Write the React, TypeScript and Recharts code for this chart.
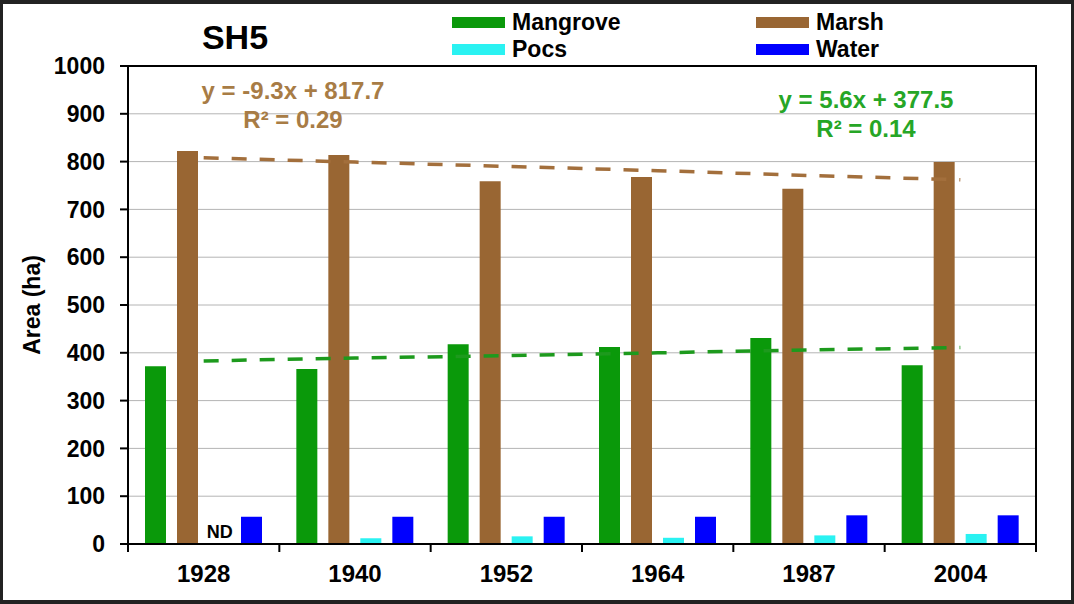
import React from 'react';
import {
  ComposedChart,
  Bar,
  Line,
  XAxis,
  YAxis,
  CartesianGrid,
  Legend,
  Label,
  ReferenceArea,
  ReferenceDot,
} from 'recharts';

const FONT = 'Arial, "Liberation Sans", Helvetica, sans-serif';

const years = ['1928', '1940', '1952', '1964', '1987', '2004'];
const mangrove = [372, 366, 418, 412, 431, 374];
const marsh = [822, 814, 759, 768, 743, 799];
const pocs = [null, 12, 16, 13, 18, 21];
const water = [57, 57, 57, 57, 60, 60];
const pocsNotes = ['ND', '', '', '', '', ''];
// dashed linear trend lines
const mangroveTrend = [383, 389, 394, 400, 406, 411];
const marshTrend = [808, 799, 790, 781, 771, 762];
const yTicks = [0, 100, 200, 300, 400, 500, 600, 700, 800, 900, 1000];

const data = years.map((year, i) => ({
  year,
  Mangrove: mangrove[i],
  Marsh: marsh[i],
  Pocs: pocs[i],
  Water: water[i],
  mangroveTrend: mangroveTrend[i],
  marshTrend: marshTrend[i],
}));

const tickStyle = { fill: '#000', fontSize: 23, fontWeight: 700, fontFamily: FONT };

// year label in the middle of the band, tick marks on the band edges
const YearTick = (props: any) => {
  const { x, y, payload, index, visibleTicksCount } = props;
  const half = payload.offset || 0;
  const isLast = index === visibleTicksCount - 1;
  return (
    <g>
      <line x1={x - half} x2={x - half} y1={y} y2={y + 8} stroke="#000" strokeWidth={2} />
      {isLast && (
        <line x1={x + half} x2={x + half} y1={y} y2={y + 8} stroke="#000" strokeWidth={2} />
      )}
      <text
        x={x}
        y={y + 38}
        textAnchor="middle"
        fontSize={24}
        fontWeight={700}
        fontFamily={FONT}
        fill="#000"
      >
        {payload.value}
      </text>
    </g>
  );
};

const renderLegend = (props: any) => {
  const items = (props.payload || []).filter((p: any) => p.type !== 'none');
  return (
    <div style={{ display: 'grid', gridTemplateColumns: '304px 220px' }}>
      {items.map((it: any) => (
        <div key={it.value} style={{ display: 'flex', alignItems: 'center', height: 27 }}>
          <span style={{ width: 53, height: 11, background: it.color, marginRight: 7 }} />
          <span style={{ fontSize: 23, fontWeight: 700, fontFamily: FONT, color: '#000' }}>
            {it.value}
          </span>
        </div>
      ))}
    </div>
  );
};

const YTitle = (props: any) => {
  const vb = props.viewBox;
  const x = vb.x + 29;
  const y = vb.y + vb.height / 2;
  return (
    <text
      x={x}
      y={y}
      transform={`rotate(-90, ${x}, ${y})`}
      textAnchor="middle"
      dominantBaseline="central"
      fontSize={23}
      fontWeight={700}
      fontFamily={FONT}
      fill="#000"
    >
      Area (ha)
    </text>
  );
};

const NoteLabel = (props: any) => {
  const vb = props.viewBox;
  return (
    <text
      x={vb.x + 16}
      y={vb.y - 6}
      textAnchor="middle"
      fontSize={18}
      fontWeight={700}
      fontFamily={FONT}
      fill="#000"
    >
      {props.value}
    </text>
  );
};

export default function App() {
  return (
    <div
      style={{
        position: 'fixed',
        left: 0,
        top: 0,
        width: 1074,
        height: 604,
        background: '#222',
        fontFamily: FONT,
      }}
    >
      <div
        style={{
          position: 'absolute',
          left: 3,
          top: 4,
          width: 1068,
          height: 596,
          background: '#fff',
        }}
      >
        <ComposedChart
          width={1068}
          height={596}
          data={data}
          margin={{ top: 62, right: 35, bottom: 0, left: 0 }}
          barSize={21}
          barGap={11}
        >
          <CartesianGrid vertical={false} stroke="#b4b4b4" />
          <XAxis
            dataKey="year"
            height={56}
            axisLine={{ stroke: '#000', strokeWidth: 2 }}
            tickLine={false}
            tickSize={0}
            tickMargin={0}
            tick={<YearTick />}
            interval={0}
          />
          <YAxis
            width={125}
            domain={[0, 1000]}
            ticks={yTicks}
            interval={0}
            tickSize={8}
            tickMargin={15}
            tick={tickStyle}
            axisLine={{ stroke: '#000', strokeWidth: 2 }}
            tickLine={{ stroke: '#000', strokeWidth: 2 }}
          >
            <Label content={YTitle} />
          </YAxis>
          <Legend
            content={renderLegend}
            layout="horizontal"
            verticalAlign="middle"
            align="center"
            wrapperStyle={{ top: 5, left: 449, width: 560 }}
          />
          <Bar dataKey="Mangrove" fill="#0a990a" isAnimationActive={false} />
          <Bar dataKey="Marsh" fill="#996633" isAnimationActive={false} />
          <Bar dataKey="Pocs" fill="#2af2f2" isAnimationActive={false} />
          <Bar dataKey="Water" fill="#0000ff" isAnimationActive={false} />
          <Line
            dataKey="marshTrend"
            stroke="#a36f3c"
            strokeWidth={3.5}
            strokeDasharray="15 13"
            dot={false}
            activeDot={false}
            legendType="none"
            isAnimationActive={false}
          />
          <Line
            dataKey="mangroveTrend"
            stroke="#1d9a1d"
            strokeWidth={3.5}
            strokeDasharray="15 13"
            dot={false}
            activeDot={false}
            legendType="none"
            isAnimationActive={false}
          />
          {/* plot frame */}
          <ReferenceArea y1={0} y2={1000} fill="none" stroke="#000" strokeWidth={2} />
          {pocsNotes.map((note, i) =>
            note ? (
              <ReferenceDot
                key={years[i]}
                x={years[i]}
                y={0}
                r={0}
                fill="none"
                stroke="none"
                label={{ value: note, content: NoteLabel }}
              />
            ) : null
          )}
        </ComposedChart>
      </div>

      <div
        style={{
          position: 'absolute',
          left: 235,
          top: 20,
          transform: 'translateX(-50%)',
          fontSize: 34,
          fontWeight: 700,
          lineHeight: 1,
          color: '#000',
          whiteSpace: 'nowrap',
        }}
      >
        SH5
      </div>
      <div
        style={{
          position: 'absolute',
          left: 293,
          top: 76,
          transform: 'translateX(-50%)',
          fontSize: 24,
          fontWeight: 700,
          lineHeight: '29px',
          color: '#a87c45',
          textAlign: 'center',
          whiteSpace: 'nowrap',
        }}
      >
        <div>y = -9.3x + 817.7</div>
        <div>R² = 0.29</div>
      </div>
      <div
        style={{
          position: 'absolute',
          left: 866,
          top: 85,
          transform: 'translateX(-50%)',
          fontSize: 24,
          fontWeight: 700,
          lineHeight: '29px',
          color: '#26a626',
          textAlign: 'center',
          whiteSpace: 'nowrap',
        }}
      >
        <div>y = 5.6x + 377.5</div>
        <div>R² = 0.14</div>
      </div>
    </div>
  );
}
